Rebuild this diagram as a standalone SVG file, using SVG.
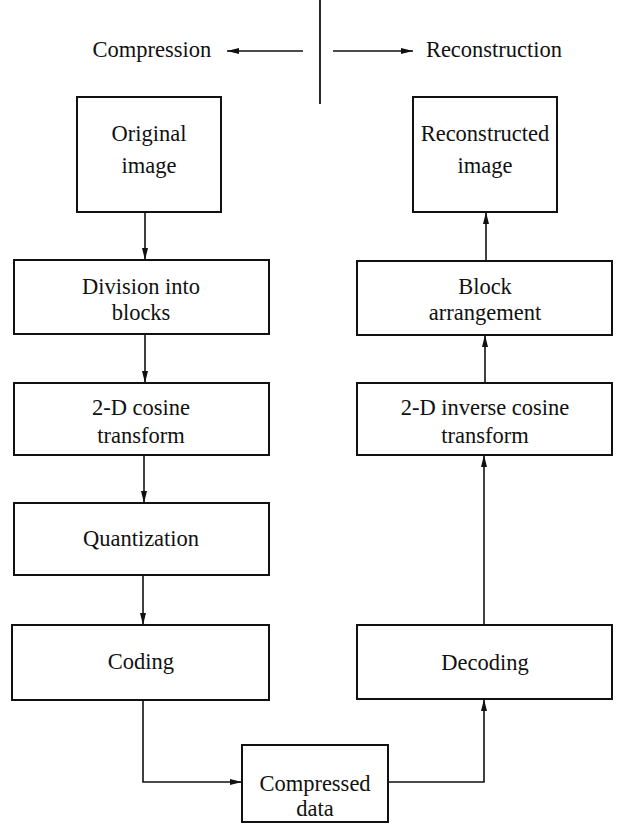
<svg xmlns="http://www.w3.org/2000/svg" width="619" height="825" viewBox="0 0 619 825">
<style>
.box{fill:#fff;stroke:#111;stroke-width:2}
.t{font-family:"Liberation Serif","Times New Roman",serif;font-size:22.5px;fill:#111;text-anchor:middle}
.c{fill:none;stroke:#111;stroke-width:1.6}
</style>
<defs>
<marker id="ah" viewBox="0 0 12 8" refX="12" refY="4" markerWidth="12" markerHeight="8" markerUnits="userSpaceOnUse" orient="auto">
<path d="M0,1 L12,4 L0,7 z" fill="#111"/>
</marker>
</defs>
<rect width="619" height="825" fill="#fff"/>
<g id="header">
<line x1="320" y1="0" x2="320" y2="104" stroke="#111" stroke-width="1.8"/>
<text class="t" x="152" y="57">Compression</text>
<text class="t" x="494" y="57">Reconstruction</text>
</g>
<g id="connectors">
<line class="c" x1="303" y1="51" x2="227" y2="51" marker-end="url(#ah)"/>
<line class="c" x1="333" y1="51" x2="413" y2="51" marker-end="url(#ah)"/>
<line class="c" x1="145" y1="212" x2="145" y2="260" marker-end="url(#ah)"/>
<line class="c" x1="145" y1="334" x2="145" y2="383" marker-end="url(#ah)"/>
<line class="c" x1="144" y1="455" x2="144" y2="503" marker-end="url(#ah)"/>
<line class="c" x1="143" y1="575" x2="143" y2="625" marker-end="url(#ah)"/>
<path class="c" d="M143,700 V782 H242" marker-end="url(#ah)"/>
<path class="c" d="M388,782 H484 V699" marker-end="url(#ah)"/>
<line class="c" x1="484" y1="625" x2="484" y2="455" marker-end="url(#ah)"/>
<line class="c" x1="485" y1="383" x2="485" y2="335" marker-end="url(#ah)"/>
<line class="c" x1="486" y1="261" x2="486" y2="212" marker-end="url(#ah)"/>
</g>
<g id="original">
<rect class="box" x="77" y="97" width="144" height="115"/>
<text class="t" x="149" y="141">Original</text>
<text class="t" x="149" y="173">image</text>
</g>
<g id="division">
<rect class="box" x="14" y="260" width="255" height="74"/>
<text class="t" x="141" y="294">Division into</text>
<text class="t" x="141" y="320">blocks</text>
</g>
<g id="dct">
<rect class="box" x="14" y="383" width="255" height="72"/>
<text class="t" x="141" y="415">2-D cosine</text>
<text class="t" x="141" y="443">transform</text>
</g>
<g id="quant">
<rect class="box" x="14" y="503" width="255" height="72"/>
<text class="t" x="141" y="546">Quantization</text>
</g>
<g id="coding">
<rect class="box" x="12" y="625" width="257" height="75"/>
<text class="t" x="141" y="669">Coding</text>
</g>
<g id="compressed">
<rect class="box" x="242" y="745" width="146" height="77"/>
<text class="t" x="315" y="791">Compressed</text>
<text class="t" x="315" y="816">data</text>
</g>
<g id="decoding">
<rect class="box" x="357" y="625" width="255" height="74"/>
<text class="t" x="485" y="670">Decoding</text>
</g>
<g id="idct">
<rect class="box" x="357" y="383" width="255" height="72"/>
<text class="t" x="485" y="415">2-D inverse cosine</text>
<text class="t" x="485" y="443">transform</text>
</g>
<g id="arrange">
<rect class="box" x="357" y="261" width="255" height="74"/>
<text class="t" x="485" y="294">Block</text>
<text class="t" x="485" y="320">arrangement</text>
</g>
<g id="reconstructed">
<rect class="box" x="413" y="97" width="144" height="115"/>
<text class="t" x="485" y="141">Reconstructed</text>
<text class="t" x="485" y="173">image</text>
</g>
</svg>
